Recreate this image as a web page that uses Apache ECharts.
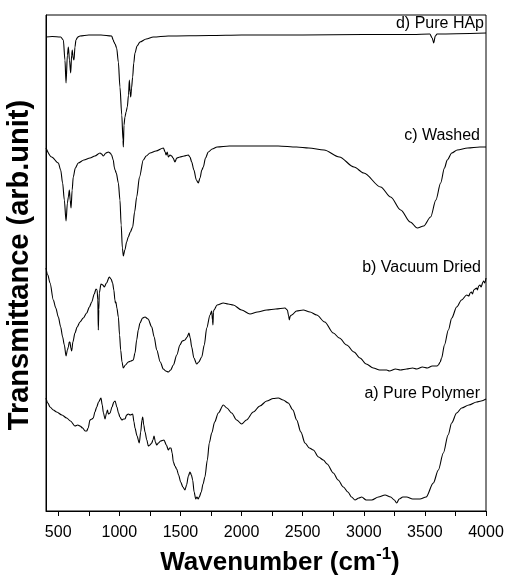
<!DOCTYPE html>
<html>
<head>
<meta charset="utf-8">
<script src="https://cdn.jsdelivr.net/npm/echarts@6/dist/echarts.min.js"></script>
<style>
  html, body { margin: 0; padding: 0; background: #fff; }
  #chart { width: 508px; height: 575px; }
</style>
</head>
<body>
<div id="chart"></div>
<script>
// wavenumber (cm-1), stacked transmittance in arbitrary units
const pureHAp = [
  [400, 474], [450, 474.5], [520, 474], [542, 471], [555, 451], [564, 428], [575, 456], [583, 464],
  [592, 451], [602, 438], [610, 456], [615, 461], [622, 453], [629, 451], [637, 464], [645, 471],
  [660, 474], [678, 475], [750, 476], [850, 476], [937, 475], [950, 471], [956, 469], [965, 467],
  [978, 463], [992, 449], [1005, 424], [1020, 396], [1030, 371], [1033, 364], [1038, 386], [1046, 394],
  [1055, 399], [1065, 404], [1075, 416], [1082, 431], [1088, 419], [1093, 414], [1100, 423], [1109, 434],
  [1118, 448], [1128, 458], [1145, 465], [1169, 469], [1220, 472], [1278, 474], [1400, 475], [1742, 475.5],
  [2000, 476], [2500, 476], [3000, 476.5], [3400, 476.5], [3540, 477], [3560, 473], [3572, 468], [3585, 475],
  [3600, 477], [4000, 478]
];

const washed = [
  [400, 363], [446, 354], [501, 348], [520, 341], [536, 328], [550, 311], [564, 290], [575, 308],
  [583, 314], [591, 321], [598, 311], [605, 303], [614, 321], [623, 334], [640, 343], [664, 348],
  [710, 351], [760, 353], [800, 355], [842, 358], [855, 357], [869, 355], [890, 358], [910, 359],
  [925, 358], [937, 356], [950, 351], [960, 343], [965, 341], [975, 338], [992, 328], [1005, 311],
  [1015, 286], [1025, 263], [1033, 255], [1045, 261], [1060, 269], [1073, 274], [1090, 279], [1109, 284],
  [1125, 299], [1142, 314], [1165, 334], [1196, 351], [1220, 355], [1251, 358], [1300, 360], [1360, 363],
  [1375, 359], [1382, 356], [1392, 359], [1401, 354], [1415, 356], [1428, 355], [1440, 353], [1455, 349],
  [1470, 353], [1496, 354], [1530, 355], [1564, 356], [1578, 354], [1592, 349], [1610, 341], [1630, 331],
  [1646, 328], [1660, 333], [1675, 341], [1687, 344], [1705, 353], [1728, 359], [1760, 362], [1800, 364],
  [1900, 365], [2100, 365], [2300, 365], [2450, 364], [2550, 363], [2675, 361], [2800, 354], [2920, 344],
  [3000, 338], [3138, 324], [3220, 314], [3302, 301], [3380, 289], [3438, 283], [3490, 285], [3547, 294],
  [3590, 311], [3629, 328], [3660, 343], [3683, 351], [3720, 358], [3765, 361], [3850, 363], [3950, 364],
  [4000, 364]
];

const vacuumDried = [
  [400, 243], [415, 236], [433, 228], [460, 211], [480, 203], [501, 194], [520, 184], [536, 174],
  [550, 166], [564, 155], [575, 161], [583, 164], [590, 169], [596, 169], [603, 163], [610, 160],
  [620, 169], [637, 178], [655, 184], [678, 189], [705, 193], [733, 198], [755, 204], [774, 209],
  [795, 217], [809, 222], [818, 221], [824, 211], [828, 181], [832, 201], [836, 218], [850, 227],
  [865, 226], [877, 224], [895, 228], [918, 234], [932, 232], [945, 228], [955, 221], [964, 211],
  [968, 208], [972, 209], [980, 203], [992, 194], [1002, 176], [1011, 161], [1022, 149], [1032, 143],
  [1050, 146], [1073, 149], [1095, 150], [1114, 151], [1128, 158], [1142, 171], [1155, 181], [1169, 188],
  [1190, 193], [1210, 194], [1235, 192], [1265, 184], [1285, 174], [1306, 161], [1335, 149], [1360, 142],
  [1380, 140], [1401, 139], [1420, 141], [1442, 146], [1470, 156], [1496, 166], [1515, 170], [1537, 171],
  [1555, 174], [1570, 178], [1580, 173], [1592, 164], [1610, 153], [1633, 147], [1650, 149], [1674, 154],
  [1695, 166], [1715, 183], [1742, 196], [1756, 200], [1762, 191], [1766, 186], [1770, 199], [1774, 201],
  [1800, 206], [1851, 208], [1890, 207], [1932, 206], [2000, 201], [2069, 197], [2130, 199], [2206, 201],
  [2280, 202], [2355, 203], [2375, 201], [2385, 195], [2391, 191], [2398, 195], [2410, 196], [2450, 200],
  [2505, 201], [2560, 199], [2615, 196], [2680, 189], [2751, 178], [2800, 173], [2860, 166], [2920, 159],
  [2969, 153], [3020, 147], [3078, 143], [3130, 141], [3187, 141], [3210, 140], [3260, 142], [3300, 141],
  [3350, 142], [3400, 143], [3433, 142], [3480, 144], [3520, 143], [3560, 145], [3600, 145], [3610, 146],
  [3625, 149], [3637, 153], [3660, 166], [3692, 181], [3720, 193], [3760, 204], [3800, 211], [3842, 216],
  [3860, 215], [3870, 218], [3880, 219], [3890, 217], [3900, 221], [3910, 222], [3924, 223], [3930, 221],
  [3940, 225], [3950, 226], [3960, 224], [3975, 229], [3980, 230], [3990, 228], [4000, 233]
];

const purePolymer = [
  [400, 113], [415, 108], [433, 104], [460, 101], [487, 99], [530, 96], [569, 93], [600, 90],
  [637, 85], [660, 86], [678, 85], [700, 83], [720, 80], [733, 80], [745, 83], [760, 91],
  [775, 92], [787, 93], [800, 99], [815, 104], [830, 109], [850, 113], [860, 106], [870, 98],
  [883, 92], [895, 98], [903, 101], [910, 97], [924, 98], [940, 104], [955, 109], [965, 110],
  [980, 104], [993, 98], [1005, 94], [1020, 91], [1035, 92], [1046, 92], [1060, 96], [1073, 97],
  [1090, 96], [1109, 97], [1120, 89], [1128, 83], [1145, 75], [1163, 68], [1175, 79], [1185, 91],
  [1191, 94], [1200, 86], [1210, 79], [1225, 71], [1237, 65], [1250, 66], [1265, 68], [1275, 71],
  [1284, 75], [1295, 69], [1306, 66], [1320, 68], [1338, 70], [1365, 71], [1385, 66], [1401, 61],
  [1412, 63], [1423, 63], [1432, 58], [1442, 49], [1455, 45], [1469, 42], [1485, 36], [1502, 29],
  [1520, 24], [1537, 21], [1550, 26], [1565, 35], [1578, 39], [1590, 36], [1600, 31], [1612, 19],
  [1625, 12], [1635, 14], [1645, 12], [1654, 14], [1670, 19], [1685, 27], [1700, 34], [1720, 51],
  [1736, 68], [1756, 78], [1780, 89], [1810, 98], [1851, 106], [1880, 103], [1919, 98], [1960, 91],
  [2001, 87], [2040, 91], [2096, 99], [2150, 105], [2206, 110], [2260, 112.5], [2301, 113], [2340, 111],
  [2382, 108], [2420, 101], [2451, 91], [2485, 79], [2519, 68], [2555, 63], [2587, 61], [2630, 54],
  [2669, 51], [2700, 47], [2751, 38], [2790, 31], [2833, 24], [2870, 19], [2900, 14], [2928, 11],
  [2960, 13], [2983, 14], [3020, 11], [3065, 11], [3120, 14], [3174, 16], [3220, 14], [3250, 11],
  [3269, 8], [3290, 12], [3320, 14], [3351, 14], [3400, 12], [3460, 12], [3510, 14], [3569, 28],
  [3610, 41], [3651, 58], [3690, 76], [3719, 88], [3760, 98], [3801, 103], [3860, 106], [3924, 109],
  [3960, 110], [4000, 112]
];

const seriesNames = ['d) Pure HAp', 'c) Washed', 'b) Vacuum Dried', 'a) Pure Polymer'];
const seriesData = [pureHAp, washed, vacuumDried, purePolymer];
const labelTicks = [500, 1000, 1500, 2000, 2500, 3000, 3500, 4000];
const allTicks = [500, 750, 1000, 1250, 1500, 1750, 2000, 2250, 2500, 2750, 3000, 3250, 3500, 3750, 4000];
// label anchor: right edge x, text middle y (px)
const labelPos = [[484, 24], [480, 136], [481, 268], [480, 394]];

const font = '"Liberation Sans", Arial, sans-serif';
const chart = echarts.init(document.getElementById('chart'), null, { renderer: 'canvas' });

const option = {
  animation: false,
  backgroundColor: '#fff',
  grid: {
    left: 46, right: 22, top: 15, bottom: 64,
    outerBoundsMode: 'none', containLabel: false,
    show: true, borderColor: '#000', borderWidth: 1, backgroundColor: 'transparent'
  },
  xAxis: {
    type: 'value', min: 400, max: 4000,
    name: '{b|Wavenumber (cm}{s|-1}{b|)}',
    nameLocation: 'middle', nameGap: 35,
    nameTextStyle: {
      padding: [0, 0, 0, 28],
      rich: {
        b: { fontFamily: font, fontWeight: 'bold', fontSize: 26, color: '#000', lineHeight: 30, verticalAlign: 'bottom' },
        s: { fontFamily: font, fontWeight: 'bold', fontSize: 17, color: '#000', lineHeight: 30, verticalAlign: 'top', padding: [0, 0, 10, 0] }
      }
    },
    axisLine: { show: true, lineStyle: { color: '#000', width: 1 } },
    axisTick: { show: true, inside: false, length: 5, customValues: allTicks, lineStyle: { color: '#000' } },
    axisLabel: {
      customValues: labelTicks, margin: 14, fontFamily: font, fontSize: 16, color: '#000',
      formatter: v => String(v)
    },
    splitLine: { show: false }
  },
  yAxis: {
    type: 'value', min: 0, max: 496,
    name: 'Transmittance (arb.unit)',
    nameLocation: 'middle', nameGap: 12, nameRotate: 90,
    nameTextStyle: { fontFamily: font, fontWeight: 'bold', fontSize: 29, color: '#000', padding: [0, 4, 0, 0] },
    axisLine: { show: true, lineStyle: { color: '#000', width: 1 } },
    axisTick: { show: false },
    axisLabel: { show: false },
    splitLine: { show: false }
  },
  series: seriesData.map((d, i) => ({
    name: seriesNames[i],
    type: 'line',
    data: d,
    showSymbol: false,
    smooth: 0.3,
    smoothMonotone: 'x',
    lineStyle: { color: '#000', width: 1.1 }
  })),
  graphic: seriesNames.map((n, i) => ({
    type: 'text',
    x: labelPos[i][0], y: labelPos[i][1],
    style: { text: n, font: '16px ' + font, fill: '#000', textAlign: 'right', textVerticalAlign: 'middle' }
  }))
};

chart.setOption(option);
</script>
</body>
</html>
